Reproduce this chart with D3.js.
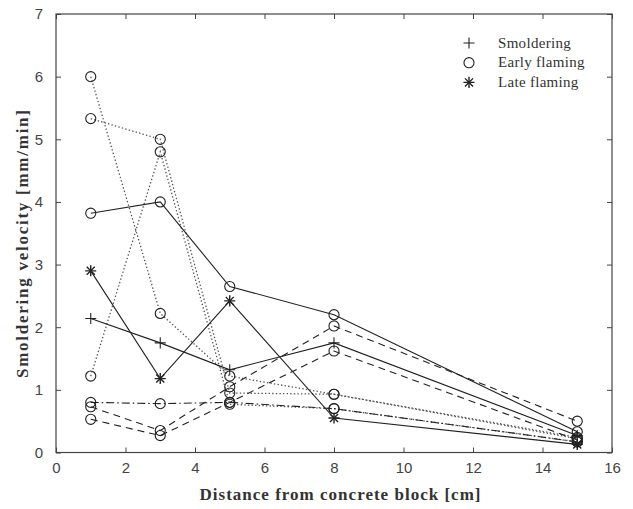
<!DOCTYPE html>
<html>
<head>
<meta charset="utf-8">
<script src="https://cdn.jsdelivr.net/npm/d3@7"></script>
<style>
  body { margin: 0; background: #fff; }
  svg { display: block; }
</style>
</head>
<body>
<div id="chartwrap"></div>
<script>
const WIDTH = 633;
const HEIGHT = 509;

const chart = { left: 56, right: 612, top: 14, bottom: 452.5 };

// distances along the sample, cm
const distances = [1, 3, 5, 8, 15];

// smoldering velocities, mm/min
const smoldering = [2.14, 1.75, 1.32, 1.75, 0.27];
const lateFlaming = [2.9, 1.18, 2.42, 0.55, 0.13];
const earlySolid = [3.82, 4.0, 2.65, 2.2, 0.33];
const earlyDotA = [6.0, 2.22, 1.22, 0.93, 0.22];
const earlyDotB = [5.33, 5.0, 0.95, 0.93, 0.24];
const earlyDotC = [1.22, 4.8, 0.77, 0.7, 0.17];
const earlyDashA = [0.73, 0.35, 1.05, 2.02, 0.5];
const earlyDashB = [0.53, 0.27, 0.8, 1.62, 0.2];
const earlyDashDot = [0.8, 0.78, 0.8, 0.7, 0.17];

const xTicks = [0, 2, 4, 6, 8, 10, 12, 14, 16];
const yTicks = [0, 1, 2, 3, 4, 5, 6, 7];

const legendNames = ['Smoldering', 'Early flaming', 'Late flaming'];
const legendMarks = ['plus', 'circle', 'star'];

const dashes = {
  solid: null,
  dotted: '1.4,2.2',
  dashed: '7,5',
  dashdot: '8,3,1.5,3'
};

const series = [
  { vals: earlyDotA, mark: 'circle', style: 'dotted' },
  { vals: earlyDotB, mark: 'circle', style: 'dotted' },
  { vals: earlyDotC, mark: 'circle', style: 'dotted' },
  { vals: earlyDashA, mark: 'circle', style: 'dashed' },
  { vals: earlyDashB, mark: 'circle', style: 'dashed' },
  { vals: earlyDashDot, mark: 'circle', style: 'dashdot' },
  { vals: earlySolid, mark: 'circle', style: 'solid' },
  { vals: smoldering, mark: 'plus', style: 'solid' },
  { vals: lateFlaming, mark: 'star', style: 'solid' }
];

const x = d3.scaleLinear().domain([0, 16]).range([chart.left, chart.right]);
const y = d3.scaleLinear().domain([0, 7]).range([chart.bottom, chart.top]);

const svg = d3.select('#chartwrap')
  .append('svg')
  .attr('width', WIDTH)
  .attr('height', HEIGHT)
  .style('background-color', '#fff');

// axes box with inward ticks on all sides
const tickFont = '"Liberation Sans", Arial, sans-serif';
const fmt = d3.format('d');

svg.append('g')
  .attr('transform', `translate(0,${chart.bottom})`)
  .call(d3.axisBottom(x).tickValues(xTicks).tickFormat(fmt).tickSizeInner(-5).tickSizeOuter(0).tickPadding(10))
  .call(g => g.select('.domain').remove());

svg.append('g')
  .attr('transform', `translate(0,${chart.top})`)
  .call(d3.axisTop(x).tickValues(xTicks).tickSizeInner(-5).tickSizeOuter(0).tickFormat(''))
  .call(g => g.select('.domain').remove());

svg.append('g')
  .attr('transform', `translate(${chart.left},0)`)
  .call(d3.axisLeft(y).tickValues(yTicks).tickFormat(fmt).tickSizeInner(-5).tickSizeOuter(0).tickPadding(13))
  .call(g => g.select('.domain').remove());

svg.append('g')
  .attr('transform', `translate(${chart.right},0)`)
  .call(d3.axisRight(y).tickValues(yTicks).tickSizeInner(-5).tickSizeOuter(0).tickFormat(''))
  .call(g => g.select('.domain').remove());

svg.selectAll('.tick line').attr('stroke', '#444');
svg.selectAll('.tick text')
  .attr('font-family', tickFont)
  .attr('font-size', 15)
  .attr('fill', '#444');

svg.append('rect')
  .attr('x', chart.left)
  .attr('y', chart.top)
  .attr('width', chart.right - chart.left)
  .attr('height', chart.bottom - chart.top)
  .attr('fill', 'none')
  .attr('stroke', '#444')
  .attr('stroke-width', 1.2);

// markers
const plusPath = d3.symbol(d3.symbolPlus, 42)();
const timesPath = d3.symbol(d3.symbolTimes, 44)();
const circlePath = d3.symbol(d3.symbolCircle, 80)();

function drawMark(g, kind) {
  const common = s => s.attr('fill', 'none').attr('stroke', '#222').attr('stroke-width', 1.1);
  if (kind === 'circle') {
    g.append('path').attr('d', circlePath).call(common);
  } else if (kind === 'plus') {
    g.append('path').attr('d', plusPath).call(common);
  } else {
    g.append('path').attr('d', plusPath).call(common).attr('stroke-width', 1.4);
    g.append('path').attr('d', timesPath).call(common).attr('stroke-width', 1.4);
  }
}

const line = d3.line()
  .defined(d => d[1] != null)
  .x(d => x(d[0]))
  .y(d => y(d[1]));

const plot = svg.append('g');

series.forEach(s => {
  const pts = distances.map((d, i) => [d, s.vals[i]]);
  plot.append('path')
    .datum(pts)
    .attr('d', line)
    .attr('fill', 'none')
    .attr('stroke', s.style === 'dotted' ? '#555' : '#222')
    .attr('stroke-width', s.style === 'dotted' ? 1.3 : 1.1)
    .attr('stroke-dasharray', dashes[s.style]);

  plot.selectAll(null)
    .data(pts.filter(p => p[1] != null))
    .enter()
    .append('g')
    .attr('transform', d => `translate(${x(d[0])},${y(d[1])})`)
    .each(function () { drawMark(d3.select(this), s.mark); });
});

// legend
const serif = '"Liberation Serif", "Times New Roman", serif';
const legend = svg.append('g').attr('transform', 'translate(469,43)');

legendNames.forEach((name, i) => {
  const row = legend.append('g').attr('transform', `translate(0,${i * 19.7})`);
  drawMark(row, legendMarks[i]);
  row.append('text')
    .attr('x', 29)
    .attr('y', 4.5)
    .attr('font-family', serif)
    .attr('font-size', 15)
    .attr('letter-spacing', 0.3)
    .attr('fill', '#333')
    .text(name);
});

// axis titles
svg.append('text')
  .attr('x', (chart.left + chart.right) / 2 + 6)
  .attr('y', 500)
  .attr('text-anchor', 'middle')
  .attr('font-family', serif)
  .attr('font-weight', 'bold')
  .attr('font-size', 17)
  .attr('textLength', 281)
  .attr('lengthAdjust', 'spacing')
  .attr('fill', '#333')
  .text('Distance from concrete block [cm]');

svg.append('text')
  .attr('transform', 'translate(28,244) rotate(-90)')
  .attr('text-anchor', 'middle')
  .attr('font-family', serif)
  .attr('font-weight', 'bold')
  .attr('font-size', 17)
  .attr('textLength', 268)
  .attr('lengthAdjust', 'spacing')
  .attr('fill', '#333')
  .text('Smoldering velocity [mm/min]');
</script>
</body>
</html>
